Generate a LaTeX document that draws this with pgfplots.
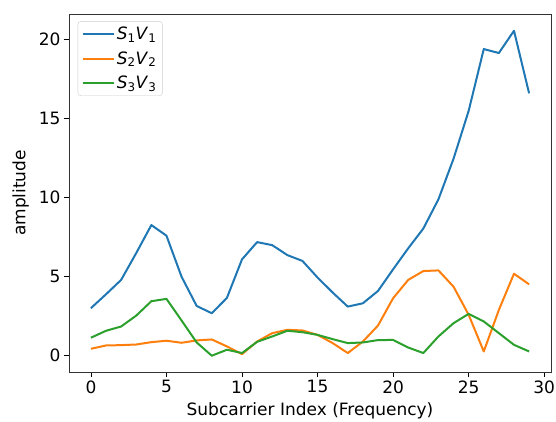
\documentclass[border=0pt]{standalone}
\usepackage{pgfplots}
\pgfplotsset{compat=1.18}
\usepackage{fontspec}
\setmainfont{DejaVu Sans}
\definecolor{c1}{HTML}{1F77B4}
\definecolor{c2}{HTML}{FF7F0E}
\definecolor{c3}{HTML}{2CA02C}
\newcommand{\sv}[1]{\textit{S}\textsubscript{#1}\textit{V}\textsubscript{#1}}
\begin{document}
\begin{tikzpicture}
\begin{axis}[
  scale only axis,
  width=482pt, height=358pt,
  xmin=-1.45, xmax=30.45,
  ymin=-1.03, ymax=21.63,
  xtick={0,5,...,30},
  ytick={0,5,10,15,20},
  tick align=outside,
  xtick pos=bottom, ytick pos=left,
  major tick length=5pt,
  tick style={black, line width=0.8pt},
  axis line style={line width=0.8pt, black!80},
  ticklabel style={font=\fontsize{17}{19}\selectfont},
  /pgf/number format/assume math mode=true,
  xlabel={Subcarrier Index (Frequency)},
  ylabel={amplitude},
  label style={font=\fontsize{17}{19}\selectfont},
  xlabel style={yshift=-2pt},
  ylabel style={yshift=3pt},
  legend style={draw=black!20, rounded corners=3pt, font=\fontsize{17}{19}\selectfont, inner sep=4pt, row sep=6pt, at={(0.018,0.98)}, anchor=north west},
  legend cell align=left,
  legend image code/.code={\draw[#1] (0pt,0pt) -- (31pt,0pt);},
  every axis plot/.append style={line width=2pt, line join=round},
]
\addplot[c1] coordinates {
(0,3.01) (1,3.89) (2,4.80) (3,6.50) (4,8.27) (5,7.60) (6,5.00) (7,3.15) (8,2.69) (9,3.66)
(10,6.10) (11,7.19) (12,7.00) (13,6.37) (14,6.00) (15,4.95) (16,4.00) (17,3.11) (18,3.32) (19,4.10)
(20,5.47) (21,6.80) (22,8.05) (23,9.90) (24,12.47) (25,15.50) (26,19.41) (27,19.16) (28,20.57) (29,16.61)};
\addlegendentry{\sv{1}}
\addplot[c2] coordinates {
(0,0.44) (1,0.65) (2,0.67) (3,0.71) (4,0.86) (5,0.95) (6,0.82) (7,0.97) (8,1.03) (9,0.59)
(10,0.10) (11,0.90) (12,1.43) (13,1.64) (14,1.60) (15,1.32) (16,0.80) (17,0.17) (18,0.90) (19,1.91)
(20,3.64) (21,4.80) (22,5.36) (23,5.40) (24,4.37) (25,2.59) (26,0.27) (27,2.90) (28,5.19) (29,4.52)};
\addlegendentry{\sv{2}}
\addplot[c3] coordinates {
(0,1.14) (1,1.58) (2,1.85) (3,2.54) (4,3.45) (5,3.60) (6,2.23) (7,0.84) (8,0.00) (9,0.38)
(10,0.17) (11,0.88) (12,1.22) (13,1.58) (14,1.49) (15,1.32) (16,1.05) (17,0.80) (18,0.84) (19,0.99)
(20,1.00) (21,0.52) (22,0.17) (23,1.22) (24,2.06) (25,2.65) (26,2.17) (27,1.43) (28,0.69) (29,0.27)};
\addlegendentry{\sv{3}}
\end{axis}
\pgfresetboundingbox
\path (current axis.south west) ++(-69pt,-49pt) coordinate (bl);
\path (current axis.north east) ++(5pt,14pt) coordinate (tr);
\path (bl) rectangle (tr);
\end{tikzpicture}
\end{document}
